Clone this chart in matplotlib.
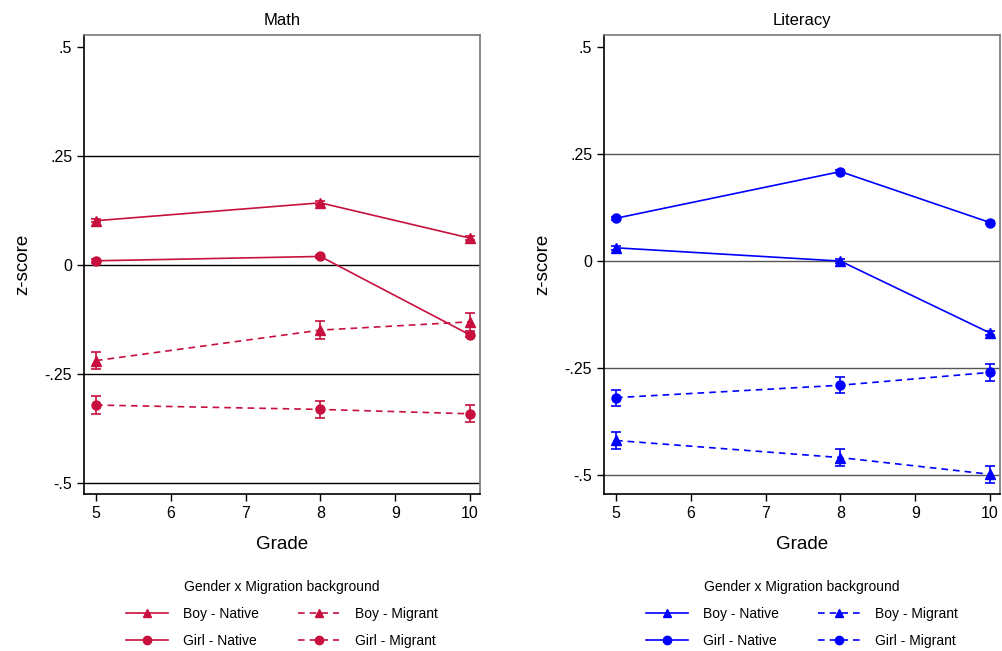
import matplotlib
matplotlib.use("Agg")
import matplotlib.pyplot as plt

# grades on the x axis
grades = [5, 8, 10]

# Math z-scores
math_boy_native = [0.102, 0.143, 0.062]
math_girl_native = [0.010, 0.020, -0.160]
math_boy_migrant = [-0.219, -0.149, -0.130]
math_girl_migrant = [-0.321, -0.331, -0.341]
math_boy_native_err = [0.004, 0.004, 0.004]
math_girl_native_err = [0.004, 0.004, 0.004]
math_boy_migrant_err = [0.020, 0.020, 0.020]
math_girl_migrant_err = [0.020, 0.020, 0.020]

# Literacy z-scores
lit_boy_native = [0.031, 0.000, -0.168]
lit_girl_native = [0.100, 0.209, 0.090]
lit_boy_migrant = [-0.419, -0.459, -0.498]
lit_girl_migrant = [-0.319, -0.290, -0.260]
lit_boy_native_err = [0.004, 0.004, 0.004]
lit_girl_native_err = [0.004, 0.004, 0.004]
lit_boy_migrant_err = [0.020, 0.020, 0.020]
lit_girl_migrant_err = [0.019, 0.019, 0.019]

yticks = [0.5, 0.25, 0, -0.25, -0.5]
ytick_labels = [".5", ".25", "0", "-.25", "-.5"]
xticks = [5, 6, 7, 8, 9, 10]
# column-first order so rows read Boy / Girl
legend_labels = ["Boy - Native", "Girl - Native", "Boy - Migrant", "Girl - Migrant"]

plt.rcParams["font.family"] = ["Liberation Sans", "DejaVu Sans"]

fig = plt.figure(figsize=(10.02, 6.51), dpi=100)


def panel(left, title, color, series, ylim, grid_lines, grid_color):
    ax = fig.add_axes([left, 0.2412, 0.395, 0.705])
    for y in grid_lines:
        ax.axhline(y, color=grid_color, lw=1.0, zorder=1)
    for name, vals, err, marker, ls in series:
        ax.errorbar(grades, vals, yerr=err, color=color, marker=marker,
                    ms=7 if marker == "^" else 6.5, ls=ls, lw=1.2,
                    capsize=3.5, elinewidth=1.2, capthick=1.2,
                    dashes=(4, 3) if ls == "--" else (None, None), zorder=3)
    ax.set_xlim(4.84, 10.13)
    ax.set_ylim(*ylim)
    ax.set_xticks(xticks)
    ax.set_yticks(yticks)
    ax.set_yticklabels(ytick_labels)
    ax.tick_params(labelsize=11.5, length=5, width=1.0, direction="out")
    ax.set_title(title, fontsize=12, pad=7)
    ax.set_xlabel("Grade", fontsize=13.5, labelpad=11)
    ax.set_ylabel("z-score", fontsize=13.5, labelpad=10)
    for s in ["left", "bottom"]:
        ax.spines[s].set_color("black")
        ax.spines[s].set_linewidth(1.2)
    for s in ["top", "right"]:
        ax.spines[s].set_color("#777777")
        ax.spines[s].set_linewidth(1.2)

    # legend handles without error bars
    lh = []
    for lab in legend_labels:
        lh.append(plt.Line2D([], [], color=color,
                             marker="^" if lab.startswith("Boy") else "o",
                             ms=6, lw=1.2,
                             ls="--" if "Migrant" in lab else "-",
                             dashes=(4, 3) if "Migrant" in lab else (None, None)))
    ax.legend(lh, legend_labels, ncol=2, loc="upper center",
              bbox_to_anchor=(0.5, -0.16), frameon=False, fontsize=10,
              title="Gender x Migration background", title_fontsize=10,
              handlelength=3.0, columnspacing=2.8, handletextpad=1.1,
              labelspacing=0.95)
    return ax


panel(0.0838, "Math", "#C8103E",
      [("Boy - Native", math_boy_native, math_boy_native_err, "^", "-"),
       ("Girl - Native", math_girl_native, math_girl_native_err, "o", "-"),
       ("Boy - Migrant", math_boy_migrant, math_boy_migrant_err, "^", "--"),
       ("Girl - Migrant", math_girl_migrant, math_girl_migrant_err, "o", "--")],
      (-0.525, 0.528), [0.25, 0, -0.25, -0.5], "black")

panel(0.6028, "Literacy", "#0000FF",
      [("Boy - Native", lit_boy_native, lit_boy_native_err, "^", "-"),
       ("Girl - Native", lit_girl_native, lit_girl_native_err, "o", "-"),
       ("Boy - Migrant", lit_boy_migrant, lit_boy_migrant_err, "^", "--"),
       ("Girl - Migrant", lit_girl_migrant, lit_girl_migrant_err, "o", "--")],
      (-0.544, 0.528), [0.25, 0, -0.25, -0.5], "#555555")

fig.savefig("out.png", dpi=100)
